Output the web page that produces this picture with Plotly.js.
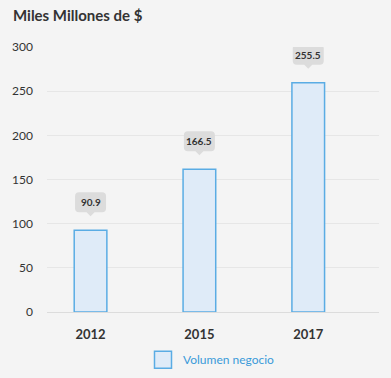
<!DOCTYPE html>
<html>
<head>
<meta charset="utf-8">
<script src="https://cdn.plot.ly/plotly-3.0.1.min.js"></script>
<style>
html,body{margin:0;padding:0;background:#f4f4f4;}
#chart{width:391px;height:378px;}
</style>
</head>
<body>
<div id="chart"></div>
<script>
// Data
var categories = ['2012', '2015', '2017'];
var barValues = [92.5, 161.5, 259.5];          // bar heights as drawn
var labelTexts = ['90.9', '166.5', '255.5'];   // values printed in callouts
var seriesName = 'Volumen negocio';
var chartTitle = 'Miles Millones de $';
var yTicks = [0, 50, 100, 150, 200, 250, 300];

var FONT = 'Lato, "Open Sans", sans-serif';
var BAR_FILL = 'rgb(223,235,248)';
var BAR_LINE = 'rgb(90,172,228)';
var TEXT_DARK = '#333333';

var trace = {
  type: 'bar',
  x: categories,
  y: barValues,
  name: seriesName,
  width: 0.3,
  marker: {color: BAR_FILL, line: {color: BAR_LINE, width: 1.5}},
  showlegend: true,
  hoverinfo: 'skip'
};

// Callout bubble (rounded rect with downward pointer) in pixel units, anchored at bar top
var calloutPath = 'M-11.5,18 L-4,18 L0,14 L4,18 L11.5,18 Q15.5,18 15.5,22 L15.5,34 Q15.5,38 11.5,38 ' +
                  'L-11.5,38 Q-15.5,38 -15.5,34 L-15.5,22 Q-15.5,18 -11.5,18 Z';

var shapes = categories.map(function (c, i) {
  return {
    type: 'path', xref: 'x', yref: 'y',
    xsizemode: 'pixel', ysizemode: 'pixel',
    xanchor: i, yanchor: barValues[i],
    path: calloutPath,
    fillcolor: '#dcdcdc', line: {width: 0}, layer: 'above'
  };
});

var annotations = categories.map(function (c, i) {
  return {
    x: i, y: barValues[i], xref: 'x', yref: 'y',
    text: labelTexts[i], showarrow: false,
    yanchor: 'middle', yshift: 28,
    font: {family: FONT, size: 10, color: TEXT_DARK, weight: 'bold'}
  };
});

var layout = {
  width: 391, height: 378,
  paper_bgcolor: '#f4f4f4', plot_bgcolor: '#f4f4f4',
  margin: {l: 47, r: 12, t: 47, b: 66, pad: 0, autoexpand: false},
  title: {
    text: chartTitle, xref: 'container', yref: 'container',
    x: 13 / 391, xanchor: 'left', y: 1 - 16 / 378, yanchor: 'middle',
    font: {family: FONT, size: 15, color: TEXT_DARK, weight: 'bold'}
  },
  xaxis: {
    type: 'category', range: [-0.4, 2.65],
    showgrid: false, zeroline: false, showline: false, ticks: '',
    ticklabelstandoff: 13,
    tickfont: {family: FONT, size: 13, color: TEXT_DARK, weight: 'bold'}
  },
  yaxis: {
    range: [0, 300], tickvals: yTicks,
    showgrid: true, gridcolor: '#e6e6e6', gridwidth: 1,
    zeroline: true, zerolinecolor: '#dcdcdc', zerolinewidth: 1,
    showline: false, ticks: '', ticklabelstandoff: 13,
    tickfont: {family: FONT, size: 12, color: TEXT_DARK}
  },
  showlegend: true,
  legend: {
    orientation: 'h', x: (143 - 47) / 332, xanchor: 'left',
    y: -0.18, yanchor: 'middle',
    bgcolor: 'rgba(0,0,0,0)',
    font: {family: FONT, size: 12, color: 'rgb(58,154,217)'}
  },
  shapes: shapes,
  annotations: annotations,
  bargap: 0.7
};

Plotly.newPlot('chart', [trace], layout, {staticPlot: true, displayModeBar: false}).then(function (gd) {
  // enlarge the legend swatch to match the reference's square
  var pts = gd.querySelectorAll('.legend .legendpoints path');
  pts.forEach(function (p) { p.setAttribute('d', 'M8.5,8.5H-8.5V-8.5H8.5Z'); });
});
</script>
</body>
</html>
